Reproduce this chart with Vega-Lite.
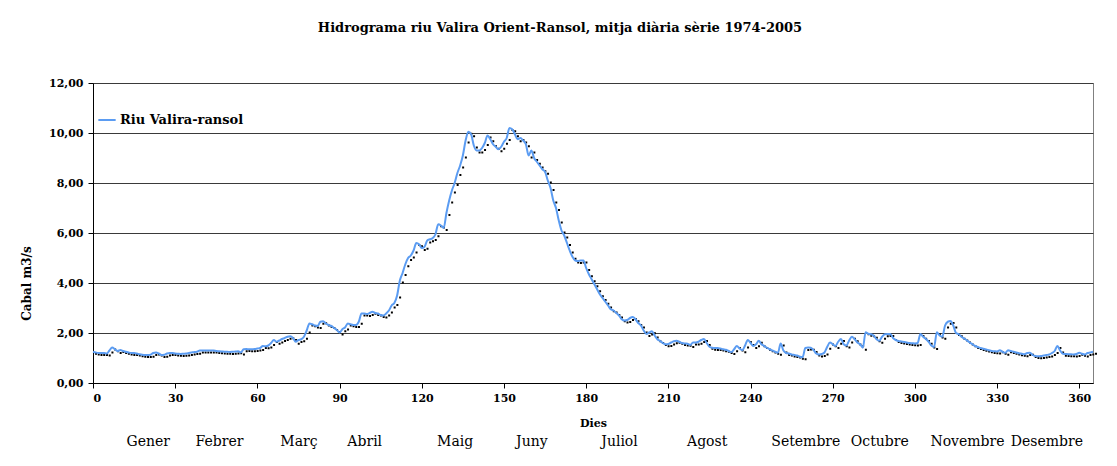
{
  "$schema": "https://vega.github.io/schema/vega-lite/v6.json",
  "width": 1000,
  "height": 300,
  "autosize": {"type": "none"},
  "padding": {"left": 93, "top": 83, "right": 24, "bottom": 83},
  "background": "white",
  "config": {
    "font": "DejaVu Serif",
    "view": {"stroke": "#808080", "strokeWidth": 1},
    "axis": {"labelFont": "DejaVu Serif", "titleFont": "DejaVu Serif", "labelColor": "black", "titleColor": "black"}
  },
  "title": {
    "text": "Hidrograma riu Valira Orient-Ransol, mitja diària sèrie 1974-2005",
    "font": "DejaVu Serif",
    "fontSize": 13,
    "fontWeight": "bold",
    "color": "black",
    "anchor": "middle",
    "dx": -33,
    "offset": 42
  },
  "datasets": {
    "flow": [
      {"dia":0,"q":1.25},{"dia":1,"q":1.22},{"dia":2,"q":1.2},{"dia":3,"q":1.2},{"dia":4,"q":1.2},{"dia":5,"q":1.18},{"dia":6,"q":1.3},{"dia":7,"q":1.42},{"dia":8,"q":1.35},{"dia":9,"q":1.28},
      {"dia":10,"q":1.32},{"dia":11,"q":1.28},{"dia":12,"q":1.25},{"dia":13,"q":1.22},{"dia":14,"q":1.2},{"dia":15,"q":1.2},{"dia":16,"q":1.18},{"dia":17,"q":1.15},{"dia":18,"q":1.13},{"dia":19,"q":1.12},
      {"dia":20,"q":1.12},{"dia":21,"q":1.13},{"dia":22,"q":1.2},{"dia":23,"q":1.22},{"dia":24,"q":1.18},{"dia":25,"q":1.12},{"dia":26,"q":1.13},{"dia":27,"q":1.18},{"dia":28,"q":1.2},{"dia":29,"q":1.2},
      {"dia":30,"q":1.18},{"dia":31,"q":1.17},{"dia":32,"q":1.16},{"dia":33,"q":1.17},{"dia":34,"q":1.18},{"dia":35,"q":1.2},{"dia":36,"q":1.22},{"dia":37,"q":1.24},{"dia":38,"q":1.25},{"dia":39,"q":1.3},
      {"dia":40,"q":1.3},{"dia":41,"q":1.3},{"dia":42,"q":1.3},{"dia":43,"q":1.3},{"dia":44,"q":1.3},{"dia":45,"q":1.28},{"dia":46,"q":1.27},{"dia":47,"q":1.26},{"dia":48,"q":1.25},{"dia":49,"q":1.25},
      {"dia":50,"q":1.24},{"dia":51,"q":1.25},{"dia":52,"q":1.26},{"dia":53,"q":1.27},{"dia":54,"q":1.22},{"dia":55,"q":1.35},{"dia":56,"q":1.36},{"dia":57,"q":1.35},{"dia":58,"q":1.35},{"dia":59,"q":1.36},
      {"dia":60,"q":1.38},{"dia":61,"q":1.4},{"dia":62,"q":1.48},{"dia":63,"q":1.47},{"dia":64,"q":1.5},{"dia":65,"q":1.6},{"dia":66,"q":1.72},{"dia":67,"q":1.65},{"dia":68,"q":1.7},{"dia":69,"q":1.76},
      {"dia":70,"q":1.8},{"dia":71,"q":1.85},{"dia":72,"q":1.87},{"dia":73,"q":1.8},{"dia":74,"q":1.65},{"dia":75,"q":1.72},{"dia":76,"q":1.75},{"dia":77,"q":1.85},{"dia":78,"q":2.1},{"dia":79,"q":2.38},
      {"dia":80,"q":2.35},{"dia":81,"q":2.3},{"dia":82,"q":2.28},{"dia":83,"q":2.45},{"dia":84,"q":2.47},{"dia":85,"q":2.38},{"dia":86,"q":2.32},{"dia":87,"q":2.28},{"dia":88,"q":2.2},{"dia":89,"q":2.12},
      {"dia":90,"q":2.02},{"dia":91,"q":2.15},{"dia":92,"q":2.22},{"dia":93,"q":2.38},{"dia":94,"q":2.35},{"dia":95,"q":2.32},{"dia":96,"q":2.32},{"dia":97,"q":2.45},{"dia":98,"q":2.78},{"dia":99,"q":2.78},
      {"dia":100,"q":2.76},{"dia":101,"q":2.8},{"dia":102,"q":2.85},{"dia":103,"q":2.8},{"dia":104,"q":2.78},{"dia":105,"q":2.72},{"dia":106,"q":2.7},{"dia":107,"q":2.78},{"dia":108,"q":2.9},{"dia":109,"q":3.1},
      {"dia":110,"q":3.2},{"dia":111,"q":3.5},{"dia":112,"q":4.1},{"dia":113,"q":4.4},{"dia":114,"q":4.75},{"dia":115,"q":5.0},{"dia":116,"q":5.1},{"dia":117,"q":5.3},{"dia":118,"q":5.6},{"dia":119,"q":5.55},
      {"dia":120,"q":5.4},{"dia":121,"q":5.45},{"dia":122,"q":5.7},{"dia":123,"q":5.75},{"dia":124,"q":5.8},{"dia":125,"q":5.95},{"dia":126,"q":6.35},{"dia":127,"q":6.3},{"dia":128,"q":6.2},{"dia":129,"q":6.8},
      {"dia":130,"q":7.3},{"dia":131,"q":7.7},{"dia":132,"q":8.0},{"dia":133,"q":8.4},{"dia":134,"q":8.7},{"dia":135,"q":9.1},{"dia":136,"q":9.7},{"dia":137,"q":10.05},{"dia":138,"q":9.95},{"dia":139,"q":9.5},
      {"dia":140,"q":9.3},{"dia":141,"q":9.3},{"dia":142,"q":9.4},{"dia":143,"q":9.6},{"dia":144,"q":9.9},{"dia":145,"q":9.75},{"dia":146,"q":9.55},{"dia":147,"q":9.45},{"dia":148,"q":9.35},{"dia":149,"q":9.45},
      {"dia":150,"q":9.65},{"dia":151,"q":9.8},{"dia":152,"q":10.2},{"dia":153,"q":10.15},{"dia":154,"q":9.95},{"dia":155,"q":9.75},{"dia":156,"q":9.8},{"dia":157,"q":9.7},{"dia":158,"q":9.55},{"dia":159,"q":9.1},
      {"dia":160,"q":9.3},{"dia":161,"q":9.0},{"dia":162,"q":8.85},{"dia":163,"q":8.7},{"dia":164,"q":8.55},{"dia":165,"q":8.45},{"dia":166,"q":8.1},{"dia":167,"q":7.8},{"dia":168,"q":7.3},{"dia":169,"q":7.0},
      {"dia":170,"q":6.5},{"dia":171,"q":6.1},{"dia":172,"q":5.9},{"dia":173,"q":5.6},{"dia":174,"q":5.3},{"dia":175,"q":5.05},{"dia":176,"q":4.9},{"dia":177,"q":4.88},{"dia":178,"q":4.9},{"dia":179,"q":4.9},
      {"dia":180,"q":4.6},{"dia":181,"q":4.35},{"dia":182,"q":4.15},{"dia":183,"q":3.95},{"dia":184,"q":3.75},{"dia":185,"q":3.55},{"dia":186,"q":3.4},{"dia":187,"q":3.25},{"dia":188,"q":3.1},{"dia":189,"q":2.95},
      {"dia":190,"q":2.9},{"dia":191,"q":2.8},{"dia":192,"q":2.7},{"dia":193,"q":2.55},{"dia":194,"q":2.5},{"dia":195,"q":2.52},{"dia":196,"q":2.6},{"dia":197,"q":2.64},{"dia":198,"q":2.55},{"dia":199,"q":2.4},
      {"dia":200,"q":2.3},{"dia":201,"q":2.1},{"dia":202,"q":1.96},{"dia":203,"q":2.02},{"dia":204,"q":2.07},{"dia":205,"q":1.9},{"dia":206,"q":1.75},{"dia":207,"q":1.68},{"dia":208,"q":1.6},{"dia":209,"q":1.55},
      {"dia":210,"q":1.56},{"dia":211,"q":1.62},{"dia":212,"q":1.67},{"dia":213,"q":1.69},{"dia":214,"q":1.65},{"dia":215,"q":1.6},{"dia":216,"q":1.58},{"dia":217,"q":1.57},{"dia":218,"q":1.52},{"dia":219,"q":1.62},
      {"dia":220,"q":1.62},{"dia":221,"q":1.65},{"dia":222,"q":1.72},{"dia":223,"q":1.76},{"dia":224,"q":1.6},{"dia":225,"q":1.45},{"dia":226,"q":1.41},{"dia":227,"q":1.4},{"dia":228,"q":1.4},{"dia":229,"q":1.38},
      {"dia":230,"q":1.35},{"dia":231,"q":1.33},{"dia":232,"q":1.28},{"dia":233,"q":1.24},{"dia":234,"q":1.35},{"dia":235,"q":1.48},{"dia":236,"q":1.38},{"dia":237,"q":1.31},{"dia":238,"q":1.5},{"dia":239,"q":1.72},
      {"dia":240,"q":1.6},{"dia":241,"q":1.48},{"dia":242,"q":1.55},{"dia":243,"q":1.69},{"dia":244,"q":1.55},{"dia":245,"q":1.48},{"dia":246,"q":1.41},{"dia":247,"q":1.35},{"dia":248,"q":1.3},{"dia":249,"q":1.25},
      {"dia":250,"q":1.21},{"dia":251,"q":1.58},{"dia":252,"q":1.3},{"dia":253,"q":1.2},{"dia":254,"q":1.18},{"dia":255,"q":1.14},{"dia":256,"q":1.12},{"dia":257,"q":1.1},{"dia":258,"q":1.05},{"dia":259,"q":1.03},
      {"dia":260,"q":1.4},{"dia":261,"q":1.42},{"dia":262,"q":1.41},{"dia":263,"q":1.32},{"dia":264,"q":1.18},{"dia":265,"q":1.14},{"dia":266,"q":1.16},{"dia":267,"q":1.22},{"dia":268,"q":1.45},{"dia":269,"q":1.62},
      {"dia":270,"q":1.55},{"dia":271,"q":1.48},{"dia":272,"q":1.65},{"dia":273,"q":1.76},{"dia":274,"q":1.55},{"dia":275,"q":1.5},{"dia":276,"q":1.7},{"dia":277,"q":1.85},{"dia":278,"q":1.75},{"dia":279,"q":1.62},
      {"dia":280,"q":1.55},{"dia":281,"q":1.41},{"dia":282,"q":2.03},{"dia":283,"q":1.97},{"dia":284,"q":1.95},{"dia":285,"q":1.89},{"dia":286,"q":1.75},{"dia":287,"q":1.69},{"dia":288,"q":1.85},{"dia":289,"q":1.95},
      {"dia":290,"q":1.96},{"dia":291,"q":1.96},{"dia":292,"q":1.8},{"dia":293,"q":1.72},{"dia":294,"q":1.68},{"dia":295,"q":1.66},{"dia":296,"q":1.64},{"dia":297,"q":1.62},{"dia":298,"q":1.6},{"dia":299,"q":1.59},
      {"dia":300,"q":1.58},{"dia":301,"q":1.6},{"dia":302,"q":1.96},{"dia":303,"q":1.85},{"dia":304,"q":1.76},{"dia":305,"q":1.65},{"dia":306,"q":1.5},{"dia":307,"q":1.44},{"dia":308,"q":2.03},{"dia":309,"q":1.9},
      {"dia":310,"q":1.85},{"dia":311,"q":2.3},{"dia":312,"q":2.45},{"dia":313,"q":2.48},{"dia":314,"q":2.3},{"dia":315,"q":2.0},{"dia":316,"q":1.95},{"dia":317,"q":1.85},{"dia":318,"q":1.78},{"dia":319,"q":1.7},
      {"dia":320,"q":1.62},{"dia":321,"q":1.55},{"dia":322,"q":1.48},{"dia":323,"q":1.44},{"dia":324,"q":1.4},{"dia":325,"q":1.37},{"dia":326,"q":1.34},{"dia":327,"q":1.31},{"dia":328,"q":1.28},{"dia":329,"q":1.27},
      {"dia":330,"q":1.26},{"dia":331,"q":1.31},{"dia":332,"q":1.25},{"dia":333,"q":1.21},{"dia":334,"q":1.31},{"dia":335,"q":1.28},{"dia":336,"q":1.25},{"dia":337,"q":1.22},{"dia":338,"q":1.19},{"dia":339,"q":1.17},
      {"dia":340,"q":1.15},{"dia":341,"q":1.2},{"dia":342,"q":1.21},{"dia":343,"q":1.12},{"dia":344,"q":1.08},{"dia":345,"q":1.07},{"dia":346,"q":1.08},{"dia":347,"q":1.1},{"dia":348,"q":1.12},{"dia":349,"q":1.14},
      {"dia":350,"q":1.2},{"dia":351,"q":1.28},{"dia":352,"q":1.48},{"dia":353,"q":1.3},{"dia":354,"q":1.17},{"dia":355,"q":1.16},{"dia":356,"q":1.15},{"dia":357,"q":1.15},{"dia":358,"q":1.14},{"dia":359,"q":1.16},
      {"dia":360,"q":1.21},{"dia":361,"q":1.17},{"dia":362,"q":1.14},{"dia":363,"q":1.2},{"dia":364,"q":1.22},{"dia":365,"q":1.25}
    ],
    "mesos": [
      {"dia":20,"mes":"Gener"},{"dia":46,"mes":"Febrer"},{"dia":75,"mes":"Març"},{"dia":99,"mes":"Abril"},
      {"dia":132,"mes":"Maig"},{"dia":160,"mes":"Juny"},{"dia":192,"mes":"Juliol"},{"dia":224,"mes":"Agost"},
      {"dia":260,"mes":"Setembre"},{"dia":287,"mes":"Octubre"},{"dia":319,"mes":"Novembre"},{"dia":348,"mes":"Desembre"}
    ]
  },
  "resolve": {"axis": {"x": "independent"}},
  "layer": [
    {
      "data": {"name": "flow"},
      "mark": {"type": "point", "shape": "square", "filled": true, "size": 4, "color": "black", "opacity": 1, "xOffset": 3, "yOffset": 2},
      "encoding": {
        "x": {"field": "dia", "type": "quantitative", "scale": {"domain": [0, 365], "nice": false, "zero": false},
          "axis": {"orient": "bottom", "values": [0,30,60,90,120,150,180,210,240,270,300,330,360], "grid": false, "title": "Dies",
            "labelFontSize": 11, "labelFontWeight": "bold", "titleFontSize": 11, "titleFontWeight": "bold",
            "domainColor": "black", "tickColor": "black", "tickSize": 5, "labelPadding": 4, "titlePadding": 14}},
        "y": {"field": "q", "type": "quantitative", "scale": {"domain": [0, 12], "nice": false},
          "axis": {"values": [0,2,4,6,8,10,12], "title": "Cabal m3/s", "labelExpr": "replace(format(datum.value, '.2f'), '.', ',')",
            "labelFontSize": 11, "labelFontWeight": "bold", "titleFontSize": 12, "titleFontWeight": "bold",
            "domainColor": "black", "tickColor": "black", "tickSize": 5, "labelPadding": 5,
            "gridColor": "#3a3a3a", "gridOpacity": 1, "gridWidth": 1, "titleX": -60, "titleY": 200}}
      }
    },
    {
      "data": {"name": "flow"},
      "mark": {"type": "line", "strokeWidth": 2, "interpolate": "monotone"},
      "encoding": {
        "x": {"field": "dia", "type": "quantitative", "axis": null},
        "y": {"field": "q", "type": "quantitative"},
        "color": {"datum": "Riu Valira-ransol", "type": "nominal", "scale": {"range": ["#5b9cf2"]},
          "legend": {"title": null, "orient": "none", "legendX": 4, "legendY": 27, "symbolType": "stroke", "symbolSize": 300, "symbolStrokeWidth": 2,
            "labelFont": "DejaVu Serif", "labelFontSize": 13, "labelFontWeight": "bold", "labelColor": "black", "labelOffset": 3}}
      }
    },
    {
      "data": {"name": "mesos"},
      "mark": {"type": "rule", "opacity": 0},
      "encoding": {
        "x": {"field": "dia", "type": "quantitative",
          "axis": {"orient": "bottom", "offset": 49, "values": [20,46,75,99,132,160,192,224,260,287,319,348],
            "labelExpr": "['Gener','Febrer','Març','Abril','Maig','Juny','Juliol','Agost','Setembre','Octubre','Novembre','Desembre'][indexof([20,46,75,99,132,160,192,224,260,287,319,348], datum.value)]",
            "domain": false, "ticks": false, "grid": false, "title": null, "labelFontSize": 14, "labelFontWeight": "normal",
            "labelPadding": 2, "labelOverlap": false, "labelBound": false, "labelFlush": false}}
      }
    }
  ]
}
